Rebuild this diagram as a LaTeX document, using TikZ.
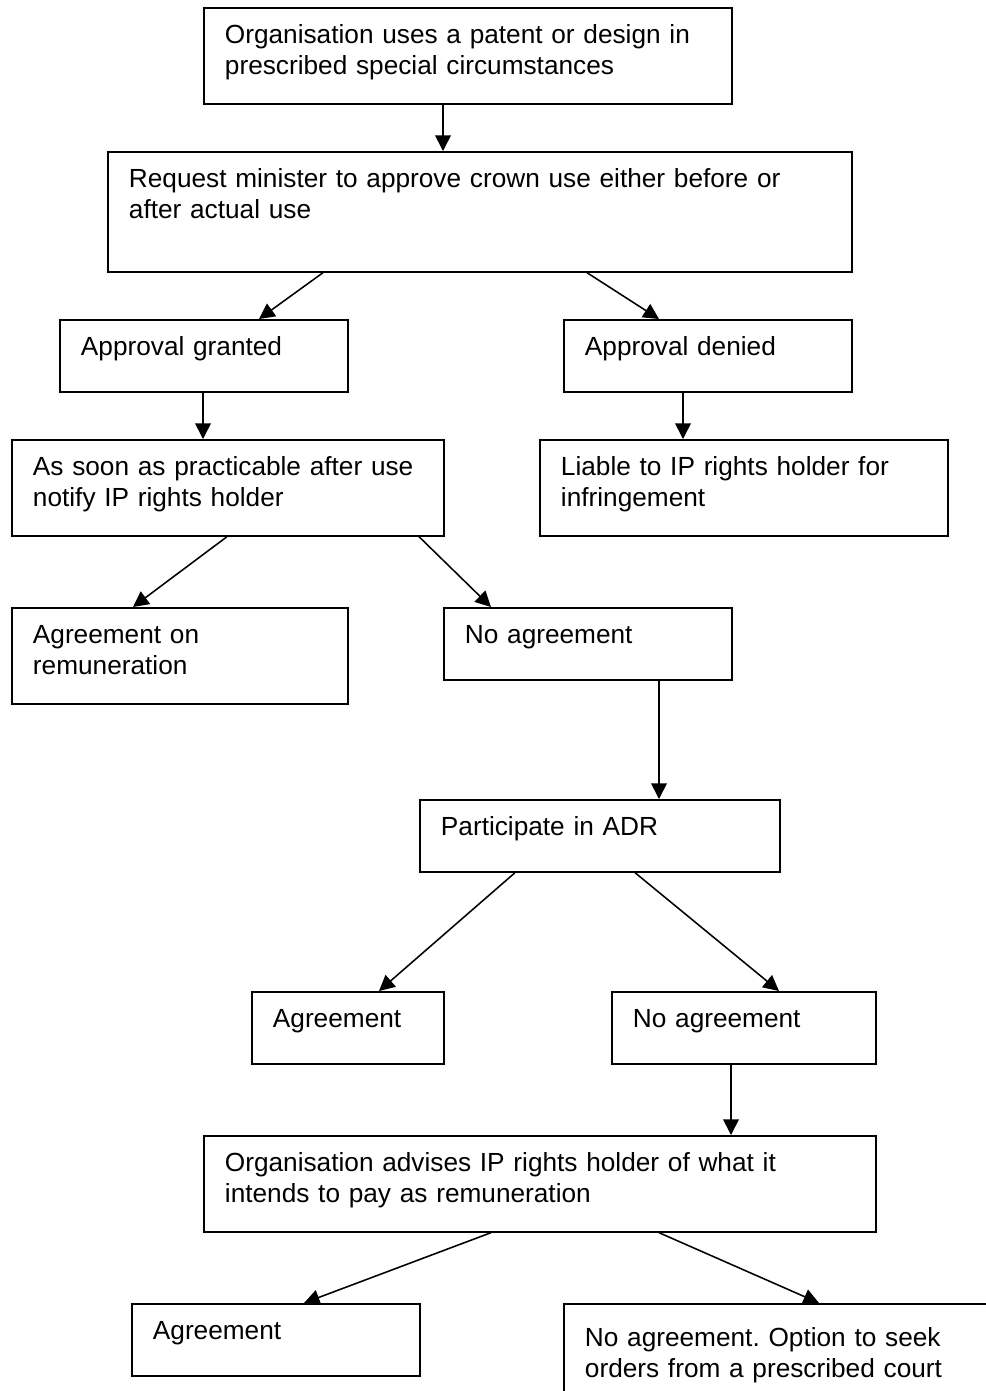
\documentclass[tikz,border=0pt]{standalone}
\usepackage{fontspec}
\setmainfont{Liberation Sans}
\usepackage{tikz}
\usetikzlibrary{arrows.meta}
\usetikzlibrary{calc,positioning}
\tikzset{>={Triangle[length=7pt,width=7pt]},
  fbox/.style 2 args={draw, line width=0.75pt, anchor=north west,
    inner xsep=9.5pt, inner ysep=0pt, align=left,
    font=\fontsize{11.8pt}{13.8pt}\selectfont\frenchspacing,
    text width=#1, text height=16.2pt, text depth=#2},
  flow/.style={->, line width=0.7pt}}

\begin{document}
\begin{tikzpicture}[x=0.45pt,y=-0.45pt]

  \useasboundingbox (0,0) rectangle (986,1391);
  \clip (0,0) rectangle (986,1391);

  \node [fbox={218.6pt}{27pt}] (org) at (203,7) {Organisation uses a patent or design in\\prescribed special circumstances};
  \node [fbox={315.8pt}{37.8pt}] (req) at (107,151) {Request minister to approve crown use either before or\\after actual use};

  \node [fbox={110.6pt}{16.2pt}] (gran) at (59,319) {Approval granted};
  \node [fbox={110.6pt}{16.2pt}] (deny) at (563,319) {Approval denied};

  \node [fbox={175.4pt}{27pt}] (noti) at (11,439) {As soon as practicable after use\\notify IP rights holder};
  \node [fbox={164.6pt}{27pt}] (liab) at (539,439) {Liable to IP rights holder for\\infringement};

  \node [fbox={132.2pt}{27pt}] (remu) at (11,607) {Agreement on\\remuneration};
  \node [fbox={110.6pt}{16.2pt}] (noag) at (443,607) {No agreement};

  \node [fbox={143pt}{16.2pt}] (adr) at (419,799) {Participate in ADR};

  \node [fbox={67.4pt}{16.2pt}] (agr) at (251,991) {Agreement};
  \node [fbox={99.8pt}{16.2pt}] (noagr) at (611,991) {No agreement};

  \node [fbox={283.4pt}{27pt}] (adv) at (203,1135) {Organisation advises IP rights holder of what it\\intends to pay as remuneration};

  \node [fbox={110.6pt}{16.2pt}] (agree) at (131,1303) {Agreement};
  \node [fbox={175.4pt}{23.85pt}, text height=19.35pt] (court) at (563,1303) {No agreement. Option to seek\\orders from a prescribed court};

  \draw [flow] ($(org.south west)+(240,0)$) -- ($(req.north west)+(336,0)$);
  \draw [flow] ($(req.south west)+(216,0)$) -- ($(gran.north west)+(200,0)$);
  \draw [flow] ($(req.south west)+(480,0)$) -- ($(deny.north west)+(96,0)$);
  \draw [flow] ($(gran.south west)+(144,0)$) -- ($(noti.north west)+(192,0)$);
  \draw [flow] ($(deny.south west)+(120,0)$) -- ($(liab.north west)+(144,0)$);
  \draw [flow] ($(noti.south west)+(216,0)$) -- ($(remu.north west)+(122,0)$);
  \draw [flow] ($(noti.south west)+(408,0)$) -- ($(noag.north west)+(48,0)$);
  \draw [flow] ($(noag.south west)+(216,0)$) -- ($(adr.north west)+(240,0)$);
  \draw [flow] ($(adr.south west)+(96,0)$) -- ($(agr.north west)+(128,0)$);
  \draw [flow] ($(adr.south west)+(216,0)$) -- ($(noagr.north west)+(168,0)$);
  \draw [flow] ($(noagr.south west)+(120,0)$) -- ($(adv.north west)+(528,0)$);
  \draw [flow] ($(adv.south west)+(288,0)$) -- ($(agree.north west)+(173,0)$);
  \draw [flow] ($(adv.south west)+(456,0)$) -- ($(court.north west)+(256,0)$);

\end{tikzpicture}
\end{document}
